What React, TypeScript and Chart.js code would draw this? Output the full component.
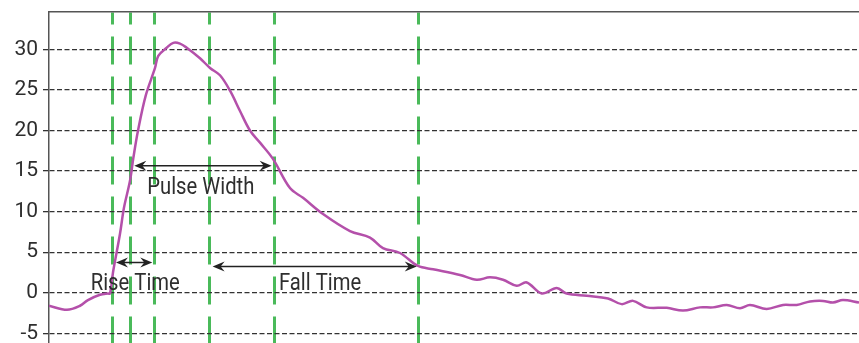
import { useEffect, useRef } from 'react';
import { Chart, registerables } from 'chart.js';

Chart.register(...registerables);

// Pulse trace: time (ns) and amplitude
const timeNs = [
  0, 2.22, 3.83, 4.81, 6.3, 7.28, 7.53, 7.9, 8.15, 8.77, 9.26, 10.0, 10.41, 10.99, 11.94,
  13.09, 13.49, 14.53, 15.35, 16.17, 17.0, 18.64, 19.88, 21.11, 22.35, 23.58, 24.81, 26.05,
  27.65, 29.75, 31.36, 33.83, 37.16, 39.63, 41.23, 43.33, 45.56, 47.41, 50.74, 52.8, 54.44,
  56.05, 57.74, 58.98, 60.83, 62.68, 63.91, 66.38, 69.01, 70.7, 72.1, 73.79, 76.26, 78.27,
  80.37, 81.98, 83.67, 85.31, 86.54, 88.6, 90.62, 92.31, 93.95, 95.56, 96.79, 98.02, 100,
];
const amplitude = [
  -1.6, -2.1, -1.6, -0.9, -0.25, -0.1, -0.1, 2.5, 3.9, 7.3, 10.5, 13.8, 16.6, 20.0, 24.3,
  27.7, 29.2, 30.2, 30.8, 30.7, 30.2, 28.9, 27.7, 26.8, 24.9, 22.4, 20.0, 18.5,
  16.5, 12.9, 11.7, 9.7, 7.6, 6.8, 5.5, 4.9, 3.3, 2.9, 2.2, 1.6, 1.9,
  1.6, 0.86, 1.27, -0.08, 0.6, -0.1, -0.37, -0.7, -1.4, -1.0, -1.8, -1.85, -2.2,
  -1.8, -1.8, -1.5, -1.9, -1.5, -2.0, -1.5, -1.5, -1.07, -1.0, -1.2, -0.9, -1.2,
];

// Timing markers (ns)
const markerTimes = [7.8, 10.1, 13.0, 19.8, 27.8, 45.6];

// Amplitude tick values
const yTicks = [-5, 0, 5, 10, 15, 20, 25, 30];

// Measured intervals: arrow span and label placement
const spanLabels = ['Rise Time', 'Pulse Width', 'Fall Time'];
const spanStart = [8.27, 10.53, 20.2];
const spanEnd = [12.75, 27.49, 45.4];
const spanLevel = [3.73, 15.65, 3.24];
const labelTime = [10.65, 18.74, 33.46];
const labelLevel = [1.1, 12.85, 1.1];

const FONT = "Roboto, 'Liberation Sans', sans-serif";

function arrowHead(ctx: CanvasRenderingContext2D, tipX: number, tipY: number, dir: number) {
  ctx.beginPath();
  ctx.moveTo(tipX, tipY);
  ctx.lineTo(tipX + dir * 12, tipY - 5);
  ctx.lineTo(tipX + dir * 8, tipY);
  ctx.lineTo(tipX + dir * 12, tipY + 5);
  ctx.closePath();
  ctx.fill();
}

const spanPlugin = {
  id: 'spanArrows',
  afterDatasetsDraw(chart: any) {
    const { ctx, scales } = chart;
    const xs = scales.x;
    const ys = scales.y;
    ctx.save();
    spanLabels.forEach((label, i) => {
      const x1 = xs.getPixelForValue(spanStart[i]);
      const x2 = xs.getPixelForValue(spanEnd[i]);
      const yy = ys.getPixelForValue(spanLevel[i]);
      ctx.strokeStyle = '#222';
      ctx.fillStyle = '#222';
      ctx.lineWidth = 1.5;
      ctx.beginPath();
      ctx.moveTo(x1 + 6, yy);
      ctx.lineTo(x2 - 6, yy);
      ctx.stroke();
      arrowHead(ctx, x1, yy, 1);
      arrowHead(ctx, x2, yy, -1);

      // condensed label text
      const cx = xs.getPixelForValue(labelTime[i]);
      const cy = ys.getPixelForValue(labelLevel[i]);
      ctx.save();
      ctx.translate(cx, cy);
      ctx.scale(0.88, 1);
      ctx.fillStyle = '#2e2e2e';
      ctx.font = `23px ${FONT}`;
      ctx.textAlign = 'center';
      ctx.textBaseline = 'middle';
      ctx.fillText(label, 0, 0);
      ctx.restore();
    });
    ctx.restore();
  },
};

export default function App() {
  const canvasRef = useRef<HTMLCanvasElement>(null);

  useEffect(() => {
    document.body.style.margin = '0';
    const chart = new Chart(canvasRef.current!, {
      type: 'line',
      data: {
        datasets: [
          {
            data: timeNs.map((t, i) => ({ x: t, y: amplitude[i] })),
            borderColor: 'rgb(180, 80, 170)',
            borderWidth: 2.5,
            pointRadius: 0,
            tension: 0.35,
            fill: false,
          },
        ],
      },
      options: {
        responsive: false,
        animation: false,
        layout: { padding: { top: 12, left: 0, right: 0, bottom: 0 } },
        plugins: { legend: { display: false }, tooltip: { enabled: false } },
        scales: {
          x: {
            type: 'linear',
            position: 'top',
            min: 0,
            max: 100,
            afterBuildTicks: (s: any) => {
              s.ticks = markerTimes.map((v) => ({ value: v }));
            },
            ticks: { display: false },
            grid: { color: 'rgb(74, 186, 90)', lineWidth: 3, drawTicks: false },
            border: { display: true, color: '#555', width: 1.5, dash: [28, 12], dashOffset: 16 },
          },
          y: {
            type: 'linear',
            min: -6.19,
            max: 34.6,
            afterBuildTicks: (s: any) => {
              s.ticks = yTicks.map((v) => ({ value: v }));
            },
            afterFit: (s: any) => {
              s.width = 49;
              s.paddingTop = 0;
              s.paddingBottom = 0;
            },
            ticks: {
              color: '#2e2e2e',
              padding: 5,
              font: { family: FONT, size: 21 },
            },
            grid: { color: '#333', lineWidth: 1.3, tickLength: 6 },
            border: { display: true, color: '#555', width: 1.5, dash: [5, 2.5] },
          },
        },
      },
      plugins: [spanPlugin],
    });
    return () => chart.destroy();
  }, []);

  return <canvas ref={canvasRef} width={859} height={343} style={{ display: 'block' }} />;
}
